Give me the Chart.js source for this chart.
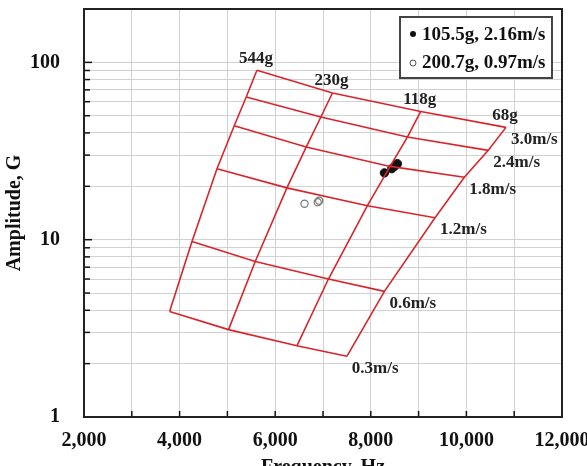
<!DOCTYPE html>
<html>
<head>
<meta charset="utf-8">
<script src="https://cdn.jsdelivr.net/npm/chart.js@4.4.1/dist/chart.umd.min.js"></script>
<style>
  html, body { margin: 0; padding: 0; background: #fff; }
  #wrap { width: 587px; height: 466px; }
</style>
</head>
<body>
<div id="wrap"><canvas id="chart" width="587" height="466"></canvas></div>
<script>
// ── Data ─────────────────────────────────────────────────────────────────────
const massLabels     = ['544g', '230g', '118g', '68g'];
const velocityLabels = ['0.3m/s', '0.6m/s', '1.2m/s', '1.8m/s', '2.4m/s', '3.0m/s'];

// grid nodes per mass, ordered 0.3 → 3.0 m/s
const freq544 = [3791, 4259, 4782, 5143, 5394, 5618];
const amp544  = [3.94, 9.78, 25.1, 43.9, 63.8, 90.2];
const freq230 = [5024, 5582, 6245, 6648, 6955, 7198];
const amp230  = [3.11, 7.54, 19.6, 33.3, 49.2, 67.2];
const freq118 = [6454, 7114, 7929, 8404, 8765, 9045];
const amp118  = [2.52, 6.0, 15.55, 25.9, 37.9, 52.9];
const freq68  = [7499, 8285, 9344, 9957, 10458, 10828];
const amp68   = [2.20, 5.11, 13.3, 22.5, 31.9, 43.0];

// measured points
const testA     = '105.5g, 2.16m/s';
const freqTestA = [8285, 8439, 8498, 8556];
const ampTestA  = [23.8, 25.15, 25.98, 26.83];
const testB     = '200.7g, 0.97m/s';
const freqTestB = [6613, 6889, 6920];
const ampTestB  = [15.96, 16.28, 16.6];

const xTicks = [2000, 3000, 4000, 5000, 6000, 7000, 8000, 9000, 10000, 11000, 12000];
const yTicks = [1, 2, 3, 4, 5, 6, 7, 8, 9, 10, 20, 30, 40, 50, 60, 70, 80, 90, 100, 200];
const yLabeled = [1, 10, 100];

// ── Build ────────────────────────────────────────────────────────────────────
const RED   = '#d8252b';
const FONT  = "'Liberation Serif', 'Times New Roman', serif";
const massFreq = [freq544, freq230, freq118, freq68];
const massAmp  = [amp544, amp230, amp118, amp68];

const zip = (xs, ys) => xs.map((x, i) => ({ x, y: ys[i] }));

const datasets = [];
massFreq.forEach((f, m) => {
  datasets.push({ label: massLabels[m], data: zip(f, massAmp[m]), showLine: true,
    borderColor: RED, borderWidth: 1.6, pointRadius: 0, fill: false });
});
velocityLabels.forEach((v, i) => {
  datasets.push({ label: v, data: massFreq.map((f, m) => ({ x: f[i], y: massAmp[m][i] })),
    showLine: true, borderColor: RED, borderWidth: 1.6, pointRadius: 0, fill: false });
});
datasets.push({ label: testA, data: zip(freqTestA, ampTestA), showLine: false,
  pointRadius: 4.2, pointBackgroundColor: '#111', pointBorderColor: '#111', pointBorderWidth: 1 });
datasets.push({ label: testB, data: zip(freqTestB, ampTestB), showLine: false,
  pointRadius: 3.6, pointBackgroundColor: 'rgba(255,255,255,0)', pointBorderColor: '#777', pointBorderWidth: 1.2 });

// frame, inner tick marks, curve labels and legend
const overlay = {
  id: 'overlay',
  afterDraw(chart) {
    const { ctx, chartArea: a, scales: { x, y } } = chart;
    ctx.save();
    // inner ticks
    ctx.strokeStyle = '#111';
    ctx.lineWidth = 1.5;
    yTicks.forEach(v => {
      const py = y.getPixelForValue(v);
      const len = yLabeled.includes(v) ? 8 : 6;
      ctx.beginPath(); ctx.moveTo(a.left, py); ctx.lineTo(a.left + len, py); ctx.stroke();
    });
    xTicks.forEach(v => {
      const px = x.getPixelForValue(v);
      ctx.beginPath(); ctx.moveTo(px, a.bottom); ctx.lineTo(px, a.bottom - 6); ctx.stroke();
    });
    // frame
    ctx.strokeStyle = '#222';
    ctx.lineWidth = 2;
    ctx.strokeRect(a.left, a.top, a.right - a.left, a.bottom - a.top);

    // curve labels
    ctx.fillStyle = '#222';
    ctx.font = 'bold 17px ' + FONT;
    ctx.textAlign = 'center';
    ctx.textBaseline = 'middle';
    const top = velocityLabels.length - 1;
    massLabels.forEach((lab, m) => {
      ctx.fillText(lab, x.getPixelForValue(massFreq[m][top]) - 1,
                        y.getPixelForValue(massAmp[m][top]) - 12);
    });
    ctx.textAlign = 'left';
    const last = massLabels.length - 1;
    velocityLabels.forEach((lab, i) => {
      ctx.fillText(lab, x.getPixelForValue(massFreq[last][i]) + 5,
                        y.getPixelForValue(massAmp[last][i]) + 12);
    });

    // legend box
    const bw = 152, bh = 61;
    const bx = a.right - 10 - bw, by = a.top + 8;
    ctx.fillStyle = '#fff';
    ctx.fillRect(bx, by, bw, bh);
    ctx.strokeStyle = '#444';
    ctx.lineWidth = 2;
    ctx.strokeRect(bx, by, bw, bh);
    ctx.font = 'bold 19px ' + FONT;
    ctx.fillStyle = '#111';
    ctx.fillText(testA, bx + 22, by + 18);
    ctx.fillText(testB, bx + 22, by + 46);
    ctx.beginPath(); ctx.arc(bx + 13, by + 17, 3, 0, Math.PI * 2); ctx.fill();
    ctx.strokeStyle = '#555'; ctx.lineWidth = 1;
    ctx.beginPath(); ctx.arc(bx + 13, by + 46, 3, 0, Math.PI * 2); ctx.stroke();
    ctx.restore();
  }
};

new Chart(document.getElementById('chart'), {
  type: 'scatter',
  data: { datasets },
  plugins: [overlay],
  options: {
    responsive: false,
    animation: false,
    layout: { padding: { top: 9, right: 25, left: 0, bottom: 0 } },
    plugins: { legend: { display: false }, tooltip: { enabled: false } },
    scales: {
      x: {
        type: 'linear', min: 2000, max: 12000,
        afterBuildTicks: s => { s.ticks = xTicks.map(v => ({ value: v })); },
        afterFit: s => { s.height = 49; s.paddingLeft = 0; s.paddingRight = 0; },
        grid: { color: '#d2d2d2', lineWidth: 1, drawTicks: false },
        border: { display: false },
        ticks: {
          autoSkip: false, maxRotation: 0, padding: 12, color: '#111',
          font: { family: FONT, size: 20, weight: 'bold' },
          callback: v => (v % 2000 === 0 ? v.toLocaleString('en-US') : '')
        },
        title: { display: true, text: 'Frequency, Hz', color: '#111',
          font: { family: FONT, size: 20, weight: 'bold' }, padding: { top: -14, bottom: -14 } }
      },
      y: {
        type: 'logarithmic', min: 1, max: 200,
        afterBuildTicks: s => { s.ticks = yTicks.map(v => ({ value: v })); },
        afterFit: s => { s.width = 84; s.paddingTop = 0; s.paddingBottom = 0; },
        grid: { color: '#d2d2d2', lineWidth: 1, drawTicks: false },
        border: { display: false },
        ticks: {
          autoSkip: false, padding: 24, color: '#111',
          font: { family: FONT, size: 20, weight: 'bold' },
          callback: v => (yLabeled.includes(v) ? String(v) : '')
        },
        title: { display: true, text: 'Amplitude, G', color: '#111',
          font: { family: FONT, size: 20, weight: 'bold' }, padding: { top: 3, bottom: 3 } }
      }
    }
  }
});
</script>
</body>
</html>
